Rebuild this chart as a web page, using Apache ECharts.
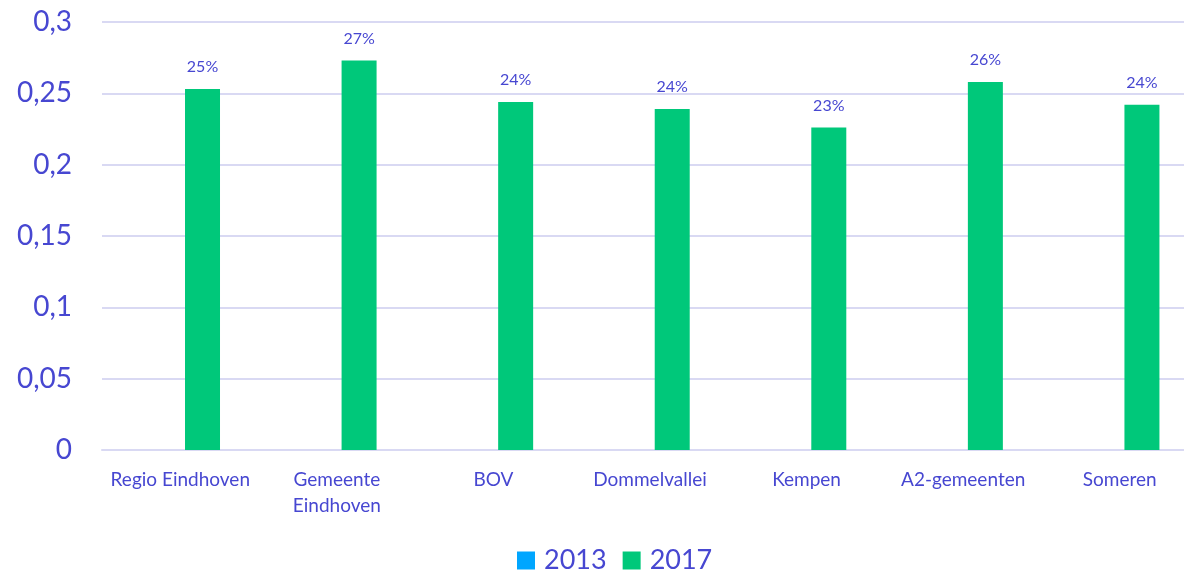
<!DOCTYPE html>
<html>
<head>
<meta charset="utf-8">
<script src="https://cdn.jsdelivr.net/npm/echarts@6/dist/echarts.min.js"></script>
<style>
  html, body { margin: 0; padding: 0; background: #fff; }
  #chart { width: 1184px; height: 572px; }
</style>
</head>
<body>
<div id="chart"></div>
<script>
// categorieen en waarden (aandeel, 0-1)
var categories = ['Regio Eindhoven', 'Gemeente\nEindhoven', 'BOV', 'Dommelvallei', 'Kempen', 'A2-gemeenten', 'Someren'];
var values2013 = [null, null, null, null, null, null, null];
var values2017 = [0.253, 0.273, 0.244, 0.239, 0.226, 0.258, 0.242];
var seriesNames = ['2013', '2017'];

var textColor = '#4747d1';
var gridColor = '#d9d9f3';

var chart = echarts.init(document.getElementById('chart'));

var option = {
    animation: false,
    textStyle: { fontFamily: 'Lato, "Open Sans", sans-serif' },
    grid: { left: 102, top: 22, bottom: 122, right: -14, containLabel: false, outerBoundsMode: 'none' },
    legend: {
        data: seriesNames,
        bottom: -7,
        left: 512,
        itemWidth: 18,
        itemHeight: 18,
        itemGap: 16,
        icon: 'rect',
        textStyle: { color: textColor, fontSize: 27, padding: [0, 0, 0, 4] }
    },
    xAxis: {
        type: 'category',
        data: categories,
        axisTick: { show: false },
        axisLine: { lineStyle: { color: gridColor, width: 2 } },
        axisLabel: { color: textColor, fontSize: 19, margin: 17, lineHeight: 26, interval: 0 }
    },
    yAxis: {
        type: 'value',
        min: 0,
        max: 0.3,
        interval: 0.05,
        axisLine: { show: false },
        axisTick: { show: false },
        splitLine: { lineStyle: { color: gridColor, width: 2 } },
        axisLabel: {
            color: textColor,
            fontSize: 28,
            margin: 30,
            formatter: function (v) {
                return String(Math.round(v * 100) / 100).replace('.', ',');
            }
        }
    },
    series: [
        {
            name: seriesNames[0],
            type: 'bar',
            data: values2013,
            barWidth: 35,
            barGap: '27%',
            itemStyle: { color: '#00a6ff' }
        },
        {
            name: seriesNames[1],
            type: 'bar',
            data: values2017,
            barWidth: 35,
            barGap: '27%',
            itemStyle: { color: '#00c87a' },
            label: {
                show: true,
                position: 'top',
                distance: 14,
                color: textColor,
                fontSize: 16,
                formatter: function (p) { return Math.round(p.value * 100) + '%'; }
            }
        }
    ]
};

chart.setOption(option);
</script>
</body>
</html>
